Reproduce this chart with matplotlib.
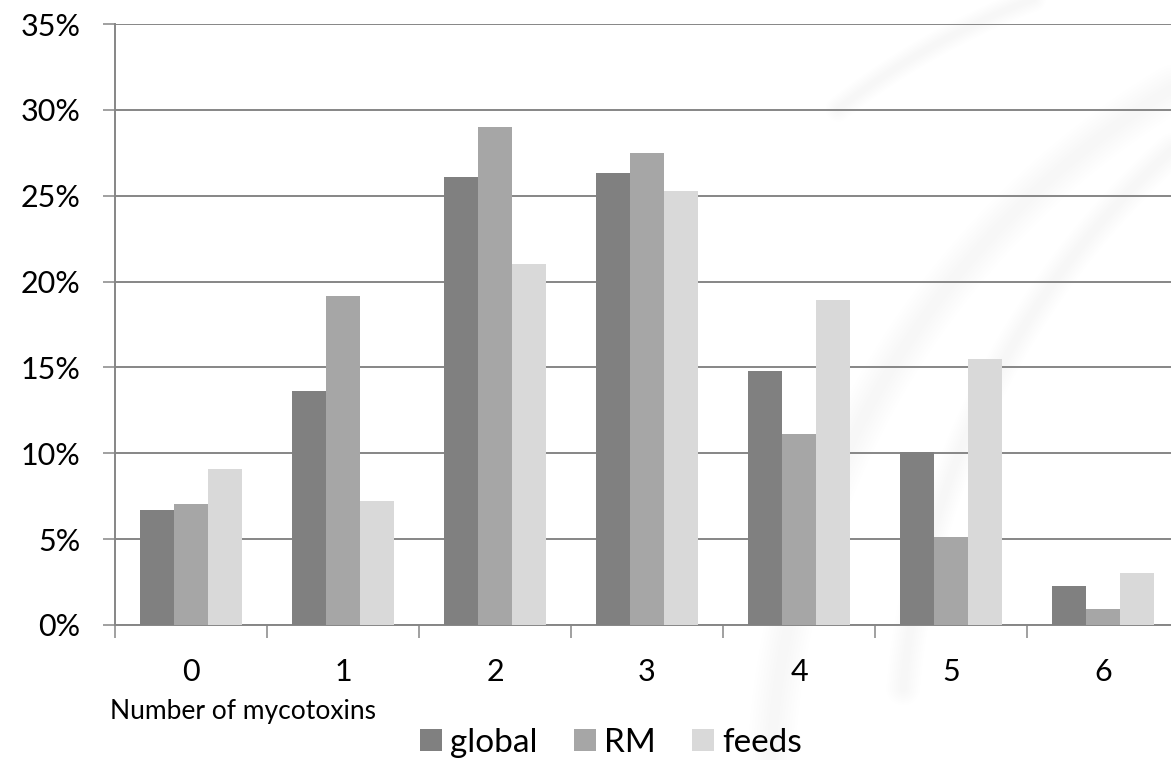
import numpy as np
import matplotlib
matplotlib.use("Agg")
import matplotlib.pyplot as plt

plt.rcParams["font.family"] = ["Lato", "DejaVu Sans"]

# number of mycotoxins found per sample, share of samples (%)
categories = ["0", "1", "2", "3", "4", "5", "6"]
global_pct = [6.7, 13.6, 26.1, 26.3, 14.8, 10.1, 2.3]
rm_pct = [7.05, 19.15, 29.0, 27.5, 11.15, 5.1, 0.95]
feeds_pct = [9.1, 7.2, 21.0, 25.25, 18.9, 15.5, 3.0]
y_ticks = [0, 5, 10, 15, 20, 25, 30, 35]

series = [("global", global_pct, "#808080"),
          ("RM", rm_pct, "#a6a6a6"),
          ("feeds", feeds_pct, "#d9d9d9")]

grid_col = "#868686"

fig = plt.figure(figsize=(11.71, 7.6), dpi=100)

# faint, soft background swoosh on the right side (pixel coords, y down)
bg = fig.add_axes([0, 0, 1, 1], zorder=0)
bg.set_xlim(0, 1171)
bg.set_ylim(760, 0)
bg.axis("off")
for cx, cy, r, t0, t1, lw in [(1600, 800, 830, 90, 180, 34),
                              (1720, 760, 820, 90, 175, 24),
                              (1300, 700, 750, 95, 128, 18)]:
    t = np.radians(np.linspace(t0, t1, 200))
    for k in np.linspace(1.0, 0.2, 8):
        bg.plot(cx + r * np.cos(t), cy - r * np.sin(t), color="#b0b0b0",
                alpha=0.011, lw=lw * k, solid_capstyle="round")

ax = fig.add_axes([115 / 1171, 135 / 760, 1064 / 1171, 601 / 760], zorder=1)
ax.patch.set_alpha(0)

x = np.arange(len(categories))
bw = 0.222
for i, (name, vals, col) in enumerate(series):
    ax.bar(x + (i - 1) * bw, vals, bw, color=col, label=name, zorder=3)

ax.set_xlim(-0.5, len(categories) - 0.5)
ax.set_ylim(0, 35)
ax.set_yticks(y_ticks)
ax.set_yticklabels([f"{v}%" for v in y_ticks])
ax.yaxis.grid(True, color=grid_col, lw=1.4, zorder=0)

ax.set_xticks(x)
ax.set_xticklabels(categories)
ax.set_xticks(np.arange(len(categories) + 1) - 0.5, minor=True)
ax.tick_params(axis="x", which="major", length=0, pad=24, labelsize=22)
ax.tick_params(axis="x", which="minor", length=9, width=1.1, color=grid_col, direction="out")
ax.tick_params(axis="y", length=9, width=1.1, color=grid_col, pad=16, labelsize=22)

for s in ["top", "right"]:
    ax.spines[s].set_visible(False)
for s in ["left", "bottom"]:
    ax.spines[s].set_color(grid_col)
    ax.spines[s].set_linewidth(1.4)

fig.text(110 / 1171, 1 - 712 / 760, "Number of mycotoxins", fontsize=19, va="center", ha="left")

fig.legend(loc="center", bbox_to_anchor=(611 / 1171, 1 - 743 / 760), ncol=3, frameon=False,
           fontsize=24, handlelength=0.65, handleheight=0.65, handletextpad=0.25,
           columnspacing=1.1, borderpad=0)

fig.savefig("out.png", dpi=100)
